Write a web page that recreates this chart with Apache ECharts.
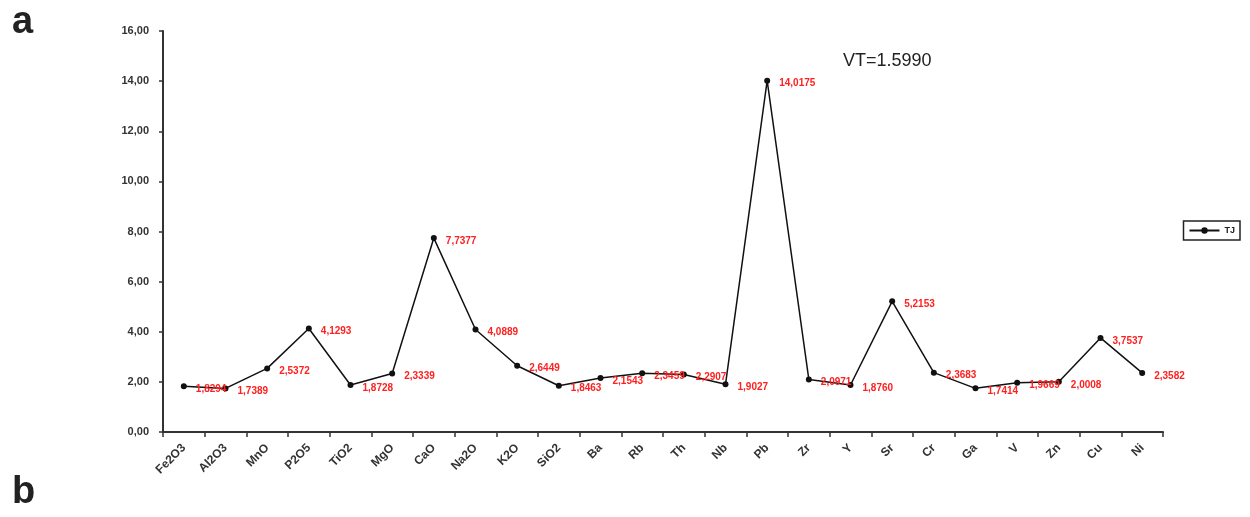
<!DOCTYPE html>
<html>
<head>
<meta charset="utf-8">
<script src="https://cdn.jsdelivr.net/npm/echarts@6/dist/echarts.min.js"></script>
<style>
html,body{margin:0;padding:0;background:#fff;}
#c{width:1250px;height:517px;}
</style>
</head>
<body>
<div id="c"></div>
<script>
const categories = ["Fe2O3","Al2O3","MnO","P2O5","TiO2","MgO","CaO","Na2O","K2O","SiO2","Ba","Rb","Th","Nb","Pb","Zr","Y","Sr","Cr","Ga","V","Zn","Cu","Ni"];
const tjValues = [1.8294,1.7389,2.5372,4.1293,1.8728,2.3339,7.7377,4.0889,2.6449,1.8463,2.1543,2.3459,2.2907,1.9027,14.0175,2.0971,1.8760,5.2153,2.3683,1.7414,1.9669,2.0008,3.7537,2.3582];
const seriesName = "TJ";
const yTickLabels = ["0,00","2,00","4,00","6,00","8,00","10,00","12,00","14,00","16,00"];
const annotation = "VT=1.5990";

const chart = echarts.init(document.getElementById('c'), null, {renderer:'canvas'});
const font = '"Liberation Sans", Arial, sans-serif';
chart.setOption({
  animation:false,
  backgroundColor:'#fff',
  textStyle:{fontFamily:font},
  grid:{left:163,right:87,top:31,bottom:85,containLabel:false},
  graphic:[
    {type:'text',left:12,top:4,style:{text:'a',font:'bold 38px '+font,fill:'#222'}},
    {type:'text',left:12,top:474,style:{text:'b',font:'bold 38px '+font,fill:'#222'}},
    {type:'text',left:843,top:52,style:{text:annotation,font:'18px '+font,fill:'#222'}}
  ],
  legend:{
    data:[seriesName],
    right:10,top:221,
    orient:'vertical',
    borderColor:'#222',borderWidth:1.5,borderRadius:0,
    padding:[5,5],
    itemWidth:30,itemHeight:8,itemGap:4,
    textStyle:{fontSize:9,fontWeight:'bold',color:'#222',fontFamily:font}
  },
  xAxis:{
    type:'category',
    data:categories,
    boundaryGap:true,
    axisLine:{lineStyle:{color:'#333',width:2}},
    axisTick:{show:true,alignWithLabel:false,length:5,lineStyle:{color:'#333',width:1.5}},
    axisLabel:{rotate:45,interval:0,margin:14,fontSize:12,fontWeight:'bold',color:'#333',fontFamily:font},
    splitLine:{show:false}
  },
  yAxis:{
    type:'value',
    min:0,max:16,interval:2,
    axisLine:{show:true,lineStyle:{color:'#333',width:2}},
    axisTick:{show:true,length:4,lineStyle:{color:'#333',width:1.5}},
    axisLabel:{fontSize:11,fontWeight:'bold',color:'#333',margin:14,fontFamily:font,
      formatter:function(v){return yTickLabels[Math.round(v/2)];}},
    splitLine:{show:false}
  },
  series:[{
    name:seriesName,
    type:'line',
    data:tjValues,
    symbol:'circle',
    symbolSize:6,
    lineStyle:{color:'#111',width:1.5},
    itemStyle:{color:'#111'},
    label:{
      show:true,position:'right',distance:9,offset:[0,3],
      fontSize:10,fontWeight:'bold',color:'#ff2020',fontFamily:font,
      formatter:function(p){return p.value.toFixed(4).replace('.',',');}
    }
  }]
});
</script>
</body>
</html>
